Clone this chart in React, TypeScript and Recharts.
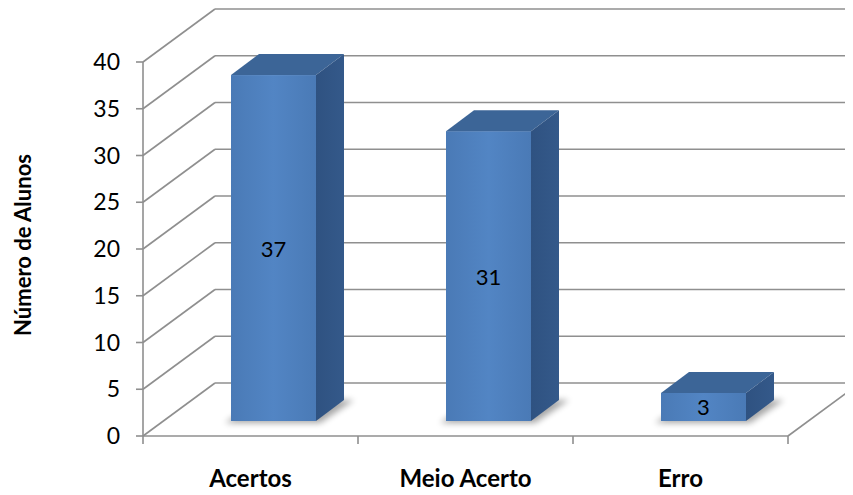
import React from 'react';
import { BarChart, Bar, XAxis, YAxis, CartesianGrid, LabelList } from 'recharts';

const categories = ['Acertos', 'Meio Acerto', 'Erro'];
const alunos = [37, 31, 3];
const yTicks = [0, 5, 10, 15, 20, 25, 30, 35, 40];
const yTitle = 'Número de Alunos';

const data = categories.map((c, i) => ({ categoria: c, alunos: alunos[i] }));

const FONT = 'Lato, "Noto Sans", sans-serif';
const WALL_DX = 72;
const WALL_DY = 53;
const SHIFT_X = 23;
const SHIFT_Y = 15;
const BAR_DX = 28;
const BAR_DY = 21;
const GRID = '#8f8f8f';

const GridLine = (p: any) => {
  const { x1, x2, y1, index } = p;
  const y = y1;
  const isBottom = index === 0;
  return (
    <g key={p.key}>
      <line x1={x1} y1={y} x2={x1 + WALL_DX} y2={y - WALL_DY} stroke={GRID} strokeWidth={1.6} />
      <line x1={x1 + WALL_DX} y1={y - WALL_DY} x2={x2 + WALL_DX + 40} y2={y - WALL_DY} stroke={GRID} strokeWidth={1.6} />
      {isBottom && (
        <g>
          <line x1={x1} y1={y} x2={x2} y2={y} stroke={GRID} strokeWidth={1.6} />
          <line x1={x2} y1={y} x2={x2 + WALL_DX} y2={y - WALL_DY} stroke={GRID} strokeWidth={1.6} />
        </g>
      )}
    </g>
  );
};

const Bar3D = (p: any) => {
  const { x, y, width, height } = p;
  const fx = x + SHIFT_X;
  const fy = y - SHIFT_Y;
  const w = width;
  const bottom = fy + height;
  const top = `${fx},${fy} ${fx + BAR_DX},${fy - BAR_DY} ${fx + w + BAR_DX},${fy - BAR_DY} ${fx + w},${fy}`;
  const side = `${fx + w},${fy} ${fx + w + BAR_DX},${fy - BAR_DY} ${fx + w + BAR_DX},${bottom - BAR_DY} ${fx + w},${bottom}`;
  const foot = `${fx - 6},${bottom + 2} ${fx + w + 4},${bottom + 2} ${fx + w + BAR_DX + 10},${bottom - BAR_DY} ${fx + BAR_DX},${bottom - BAR_DY}`;
  return (
    <g>
      <polygon points={foot} fill="#000" opacity={0.35} filter="url(#shadowBlur)" />
      <rect x={fx} y={fy} width={w} height={height} fill="url(#frontGrad)" />
      <polygon points={top} fill="#3C6597" />
      <polygon points={side} fill="url(#sideGrad)" />
    </g>
  );
};

const BarLabel = (p: any) => {
  const { x, y, width, height, value } = p;
  return (
    <text
      x={x + SHIFT_X + width / 2}
      y={y - SHIFT_Y + height / 2}
      textAnchor="middle"
      dominantBaseline="central"
      fontFamily={FONT}
      fontSize={22}
      fill="#000"
    >
      {value}
    </text>
  );
};

const CatTick = (p: any) => {
  const { x, y, payload, index } = p;
  const half = payload && payload.offset > 0 ? payload.offset : (p.width || 645) / categories.length / 2;
  return (
    <g>
      {index === 0 && <line x1={x - half} y1={y} x2={x - half} y2={y + 8} stroke={GRID} strokeWidth={1.6} />}
      <line x1={x + half} y1={y} x2={x + half} y2={y + 8} stroke={GRID} strokeWidth={1.6} />
      <text x={x} y={y + 51} textAnchor="middle" fontFamily={FONT} fontWeight="bold" fontSize={24} fill="#000">
        {payload.value}
      </text>
    </g>
  );
};

const YTitle = (p: any) => {
  const cx = 22;
  const cy = 245;
  return (
    <text
      x={cx}
      y={cy}
      transform={`rotate(-90, ${cx}, ${cy})`}
      textAnchor="middle"
      dominantBaseline="central"
      fontFamily={FONT}
      fontWeight="bold"
      fontSize={22}
      fill="#000"
    >
      {yTitle}
    </text>
  );
};

export default function App() {
  return (
    <div style={{ width: 853, height: 495, margin: -8, background: '#fff' }}>
      <BarChart width={853} height={495} data={data} margin={{ top: 62, right: 65, bottom: 0, left: 0 }}>
        <defs>
          <linearGradient id="frontGrad" x1="0" y1="0" x2="1" y2="0">
            <stop offset="0" stopColor="#4A7AB6" />
            <stop offset="0.5" stopColor="#5285C4" />
            <stop offset="1" stopColor="#4A7AB6" />
          </linearGradient>
          <linearGradient id="sideGrad" x1="0" y1="0" x2="1" y2="0">
            <stop offset="0" stopColor="#2F5281" />
            <stop offset="1" stopColor="#34598A" />
          </linearGradient>
          <filter id="shadowBlur" x="-50%" y="-50%" width="200%" height="200%">
            <feGaussianBlur stdDeviation="3" />
          </filter>
        </defs>
        <CartesianGrid horizontal={GridLine as any} vertical={false} />
        <XAxis
          dataKey="categoria"
          height={59}
          axisLine={false}
          tickLine={false}
          tickSize={0}
          tickMargin={0}
          tick={<CatTick />}
          interval={0}
        />
        <YAxis
          width={143}
          domain={[0, 40]}
          ticks={yTicks}
          interval={0}
          axisLine={{ stroke: GRID, strokeWidth: 1.6 }}
          tickLine={{ stroke: GRID, strokeWidth: 1.6 }}
          tickSize={7}
          tickMargin={16}
          tick={{ fontFamily: FONT, fontSize: 23, fill: '#000' }}
          label={<YTitle />}
        />
        <Bar dataKey="alunos" barSize={85} shape={<Bar3D />} isAnimationActive={false}>
          <LabelList dataKey="alunos" content={<BarLabel />} />
        </Bar>
      </BarChart>
    </div>
  );
}
